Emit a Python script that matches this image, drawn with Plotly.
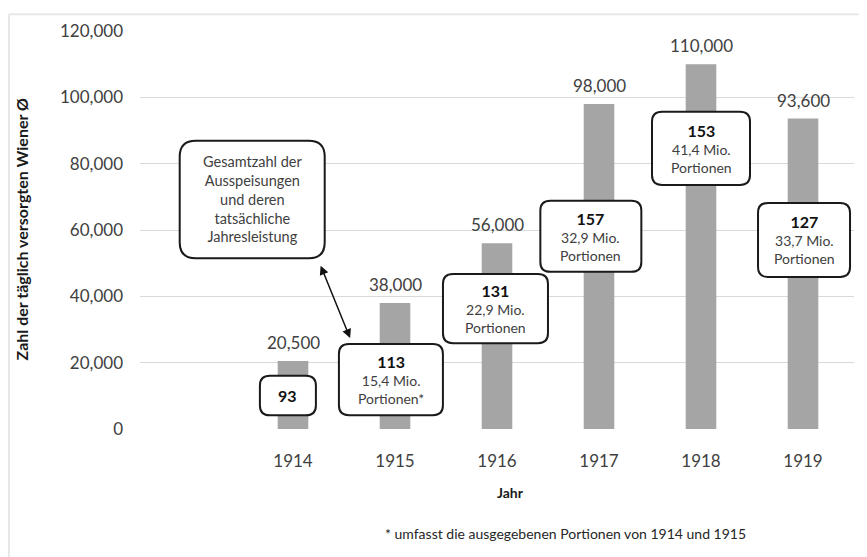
import plotly.graph_objects as go

# data
years = [1914, 1915, 1916, 1917, 1918, 1919]
fed_daily = [20500, 38000, 56000, 98000, 110000, 93600]
kitchens = ["93", "113", "131", "157", "153", "127"]
portions = ["", "15,4 Mio.", "22,9 Mio.", "32,9 Mio.", "41,4 Mio.", "33,7 Mio."]
portions_note = ["", "Portionen*", "Portionen", "Portionen", "Portionen", "Portionen"]
y_title = "Zahl der täglich versorgten Wiener Ø"
x_title = "Jahr"
legend_text = "Gesamtzahl der<br>Ausspeisungen<br>und deren<br>tatsächliche<br>Jahresleistung"
footnote = "* umfasst die ausgegebenen Portionen von 1914 und 1915"

OFF = 8  # page body margin
W, H = 867 - OFF, 557 - OFF
ML, MR, MT, MB = 140 - OFF, 13, 26 - OFF, 128
PW, PH = W - ML - MR, H - MT - MB
X_RANGE = [1912.5, 1919.5]
Y_RANGE = [0, 120000]
px_x = (X_RANGE[1] - X_RANGE[0]) / PW   # data units per pixel
px_y = (Y_RANGE[1] - Y_RANGE[0]) / PH

FONT = "Lato"
GREY_TXT = "#404040"


def paper_x(page_px):
    return (page_px - OFF - ML) / PW


def paper_y(page_py):
    return (MT + PH - (page_py - OFF)) / PH


fig = go.Figure()
fig.add_trace(go.Bar(x=years, y=fed_daily, width=0.3,
                     marker=dict(color="#a5a5a5", line=dict(width=0)),
                     hoverinfo="skip"))

# value labels above bars
for yr, v in zip(years, fed_daily):
    fig.add_annotation(x=yr, y=v, text=f"{v:,}", showarrow=False,
                       yanchor="bottom", yshift=6,
                       font=dict(family=FONT, size=17, color=GREY_TXT))


def rounded_box(cx, cy, w, h, r):
    # cx, cy in data units; w, h, r in pixels
    hw, hh = w / 2 * px_x, h / 2 * px_y
    rx, ry = r * px_x, r * px_y
    x0, x1, y0, y1 = cx - hw, cx + hw, cy - hh, cy + hh
    path = (f"M {x0+rx},{y0} L {x1-rx},{y0} Q {x1},{y0} {x1},{y0+ry} "
            f"L {x1},{y1-ry} Q {x1},{y1} {x1-rx},{y1} L {x0+rx},{y1} "
            f"Q {x0},{y1} {x0},{y1-ry} L {x0},{y0+ry} Q {x0},{y0} {x0+rx},{y0} Z")
    fig.add_shape(type="path", path=path, xref="x", yref="y",
                  line=dict(color="#1a1a1a", width=2), fillcolor="white",
                  layer="above")


# box placement: (x offset in years, centre y, width px, height px)
box_pos = [(-0.05, 10100, 56, 40), (-0.04, 14900, 104, 72), (-0.015, 36300, 105, 70),
           (-0.08, 58100, 101, 72), (0.0, 84600, 98, 74), (0.01, 57000, 92, 75)]

for yr, k, p, note, (dx, cy, w, h) in zip(years, kitchens, portions, portions_note, box_pos):
    rounded_box(yr + dx, cy, w, h, 10)
    head = f"<b><span style='font-size:16px;color:#111'>{k}</span></b>"
    txt = f"{head}<br>{p}<br>{note}" if p else head
    fig.add_annotation(x=yr + dx, y=cy, text=txt, showarrow=False,
                       font=dict(family=FONT, size=14, color=GREY_TXT),
                       align="center", xanchor="center", yanchor="middle")

# explanation box
rounded_box(1913.6, 69200, 145, 119, 16)
fig.add_annotation(x=1913.6, y=69200, text=legend_text, showarrow=False,
                   font=dict(family=FONT, size=14.5, color=GREY_TXT),
                   align="center", xanchor="center", yanchor="middle")

# double arrow
fig.add_annotation(x=1914.56, y=27400, ax=1914.265, ay=49700,
                   xref="x", yref="y", axref="x", ayref="y", text="",
                   showarrow=True, arrowhead=2, startarrowhead=2,
                   arrowside="end+start", arrowsize=1.2, startarrowsize=1.2,
                   arrowwidth=1.5, arrowcolor="#111")

# axis titles and footnote
fig.add_annotation(xref="paper", yref="paper", x=paper_x(510), y=paper_y(493),
                   xanchor="center", yanchor="middle",
                   text=f"<b>{x_title}</b>", showarrow=False,
                   font=dict(family=FONT, size=14, color="#1a1a1a"))
fig.add_annotation(xref="paper", yref="paper", x=paper_x(22), y=paper_y(227),
                   xanchor="center", yanchor="middle",
                   text=f"<b>{y_title}</b>", textangle=-90, showarrow=False,
                   font=dict(family=FONT, size=16, color="#1a1a1a"))
fig.add_annotation(xref="paper", yref="paper", x=paper_x(748), y=paper_y(535),
                   xanchor="right", yanchor="middle",
                   text=footnote, showarrow=False,
                   font=dict(family=FONT, size=14, color="#262626"))

# light frame (top and left)
fx0, fx1 = paper_x(OFF + 1), paper_x(870)
fy0, fy1 = paper_y(OFF + 1), paper_y(560)
fig.add_shape(type="line", xref="paper", yref="paper", x0=fx0, x1=fx1, y0=fy0, y1=fy0,
              line=dict(color="#e8e8e8", width=2))
fig.add_shape(type="line", xref="paper", yref="paper", x0=fx0, x1=fx0, y0=fy0, y1=fy1,
              line=dict(color="#e8e8e8", width=2))

fig.update_layout(
    width=W, height=H,
    margin=dict(l=ML, r=MR, t=MT, b=MB),
    plot_bgcolor="white", paper_bgcolor="white",
    showlegend=False,
    font=dict(family=FONT, color=GREY_TXT),
    xaxis=dict(range=X_RANGE, tickvals=years, ticktext=[str(y) for y in years],
               showgrid=False, zeroline=False, showline=False, ticks="",
               tickfont=dict(family=FONT, size=17, color=GREY_TXT),
               ticklabelstandoff=20),
    yaxis=dict(range=Y_RANGE, dtick=20000, tickformat=",",
               showgrid=True, gridcolor="#d9d9d9", gridwidth=1,
               zeroline=False, showline=False, ticks="",
               tickfont=dict(family=FONT, size=17, color=GREY_TXT),
               ticklabelstandoff=16),
)

fig.write_html("out.html")
